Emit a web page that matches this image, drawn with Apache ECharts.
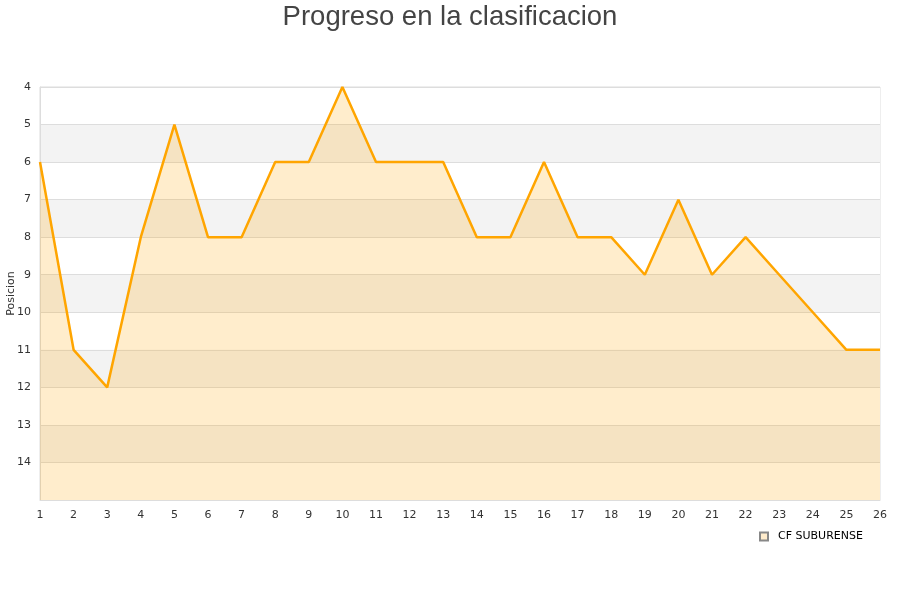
<!DOCTYPE html>
<html><head><meta charset="utf-8">
<script src="https://cdn.jsdelivr.net/npm/echarts@6/dist/echarts.min.js"></script>
<style>html,body{margin:0;padding:0;background:#fff}#c{width:900px;height:600px}</style>
</head><body><div id="c"></div>
<script>
var jornadas = [1,2,3,4,5,6,7,8,9,10,11,12,13,14,15,16,17,18,19,20,21,22,23,24,25,26];
var posiciones = [6,11,12,8,5,8,8,6,6,4,6,6,6,8,8,6,8,8,9,7,9,8,9,10,11,11];
var seriesName = 'CF SUBURENSE';
var titleText = 'Progreso en la clasificacion';

var chart = echarts.init(document.getElementById('c'));
chart.setOption({
  animation: false,
  backgroundColor: '#fff',
  title: {text: titleText, left: 'center', top: -2,
    textStyle: {fontFamily: 'Liberation Sans, Arial', fontSize: 27.5, fontWeight: 'normal', color: '#444'}},
  grid: {left: 40, right: 20, top: 87, bottom: 100, containLabel: false, outerBoundsMode: 'none',
    show: true, borderColor: '#ddd', borderWidth: 1},
  legend: {data: [{name: seriesName, icon: 'rect'}], left: 755, top: 529, itemWidth: 8, itemHeight: 8, itemGap: 6,
    padding: [2,4,2,4],
    textStyle: {fontFamily: 'DejaVu Sans', fontSize: 11, color: '#000', padding: [0,0,0,5]}},
  xAxis: {type: 'value', min: 1, max: 26, interval: 1,
    axisLine: {show: true, lineStyle: {color: '#ddd'}}, axisTick: {show: false},
    splitLine: {show: false},
    axisLabel: {fontFamily: 'DejaVu Sans', fontSize: 11, color: '#333', margin: 10}},
  yAxis: {type: 'value', inverse: true, min: 4, max: 15, interval: 1,
    name: 'Posicion', nameLocation: 'middle', nameGap: 23, nameRotate: 90, nameMoveOverlap: false,
    nameTextStyle: {fontFamily: 'DejaVu Sans', fontSize: 11, color: '#333'},
    axisLine: {show: true, lineStyle: {color: '#ddd'}}, axisTick: {show: false},
    axisLabel: {fontFamily: 'DejaVu Sans', fontSize: 11, color: '#333', margin: 9, showMaxLabel: false,
      formatter: function(v){ return v === 15 ? '' : v; }},
    splitLine: {show: true, lineStyle: {color: '#ddd'}},
    splitArea: {show: true, areaStyle: {color: ['#ffffff', '#f3f3f3']}}},
  series: [{
    name: seriesName, type: 'line',
    data: jornadas.map(function(j, i){ return [j, posiciones[i]]; }),
    symbol: 'none',
    lineStyle: {color: '#FFA500', width: 2.5},
    itemStyle: {color: '#FFECCC', borderColor: '#888', borderWidth: 1},
    areaStyle: {color: 'rgba(255,165,0,0.2)', opacity: 1, origin: 'end'}
  }]
});
</script></body></html>
